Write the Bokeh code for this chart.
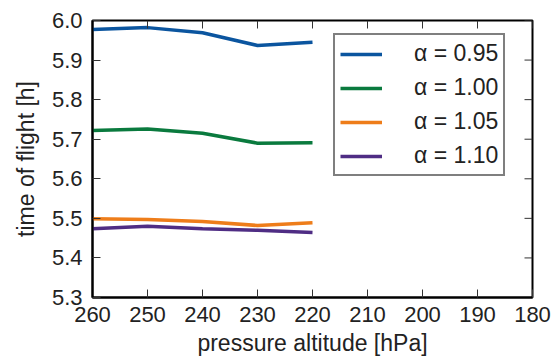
import math
from bokeh.plotting import figure
from bokeh.models import FixedTicker, Range1d, Legend, LegendItem, PrintfTickFormatter
from bokeh.embed import file_html
from bokeh.resources import INLINE

pressure = [260, 250, 240, 230, 220]
tof_095 = [5.977, 5.982, 5.969, 5.937, 5.945]
tof_100 = [5.722, 5.726, 5.715, 5.690, 5.691]
tof_105 = [5.499, 5.497, 5.492, 5.482, 5.489]
tof_110 = [5.474, 5.480, 5.474, 5.470, 5.464]
labels = ["α = 0.95", "α = 1.00", "α = 1.05", "α = 1.10"]
colors = ["#0b559f", "#0a7a3e", "#ee7d1a", "#4f2d84"]
xticks = [260, 250, 240, 230, 220, 210, 200, 190, 180]
yticks = [5.3, 5.4, 5.5, 5.6, 5.7, 5.8, 5.9, 6.0]
x_lo, x_hi = 260, 180
y_lo, y_hi = 5.3, 6.0

FONT = "Liberation Sans"
TXT = "#222222"

p = figure(width=552, height=358, output_backend="svg", toolbar_location=None,
           x_range=Range1d(x_lo, x_hi), y_range=Range1d(y_lo, y_hi),
           min_border_left=92, min_border_right=20, min_border_top=20, min_border_bottom=61)
p.xgrid.visible = False
p.ygrid.visible = False
p.outline_line_color = "black"
p.outline_line_width = 2
p.background_fill_color = "white"
p.border_fill_color = "white"

renderers = []
for ys, c in zip([tof_095, tof_100, tof_105, tof_110], colors):
    renderers.append(p.line(pressure, ys, line_color=c, line_width=3.5))

# mirrored inward ticks on the top and right edges
p.ray(x=xticks, y=[y_hi] * len(xticks), length=8, length_units="screen",
      angle=-math.pi / 2, line_color="#333333", line_width=1)
p.ray(x=[x_hi] * len(yticks), y=yticks, length=8, length_units="screen",
      angle=math.pi, line_color="#333333", line_width=1)

for ax in [p.xaxis[0], p.yaxis[0]]:
    ax.axis_line_color = "black"
    ax.axis_line_width = 2
    ax.major_tick_in = 8
    ax.major_tick_out = 0
    ax.major_tick_line_color = "#333333"
    ax.major_tick_line_width = 1
    ax.minor_tick_line_color = None
    ax.major_label_text_font = FONT
    ax.major_label_text_color = TXT
    ax.major_label_text_font_size = "22px"
    ax.axis_label_text_font = FONT
    ax.axis_label_text_font_size = "23px"
    ax.axis_label_text_font_style = "normal"
    ax.axis_label_text_color = TXT

p.xaxis.ticker = FixedTicker(ticks=xticks)
p.yaxis.ticker = FixedTicker(ticks=yticks)
p.yaxis.formatter = PrintfTickFormatter(format="%.1f")
p.xaxis.axis_label = "pressure altitude [hPa]"
p.yaxis.axis_label = "time of flight [h]"
p.xaxis.major_label_standoff = 9
p.xaxis.axis_label_standoff = 5
p.yaxis.major_label_standoff = 10
p.yaxis.axis_label_standoff = 10

legend = Legend(items=[LegendItem(label=l, renderers=[r]) for l, r in zip(labels, renderers)],
                location=(241, 121), margin=0)
legend.border_line_color = "black"
legend.border_line_width = 2
legend.label_text_font = FONT
legend.label_text_font_size = "23px"
legend.label_text_color = TXT
legend.glyph_width = 42
legend.glyph_height = 20
legend.label_standoff = 32
legend.spacing = 7
legend.padding = 5
legend.label_height = 20
legend.background_fill_alpha = 1
p.add_layout(legend, "center")

open("out.html", "w").write(file_html(p, INLINE))
